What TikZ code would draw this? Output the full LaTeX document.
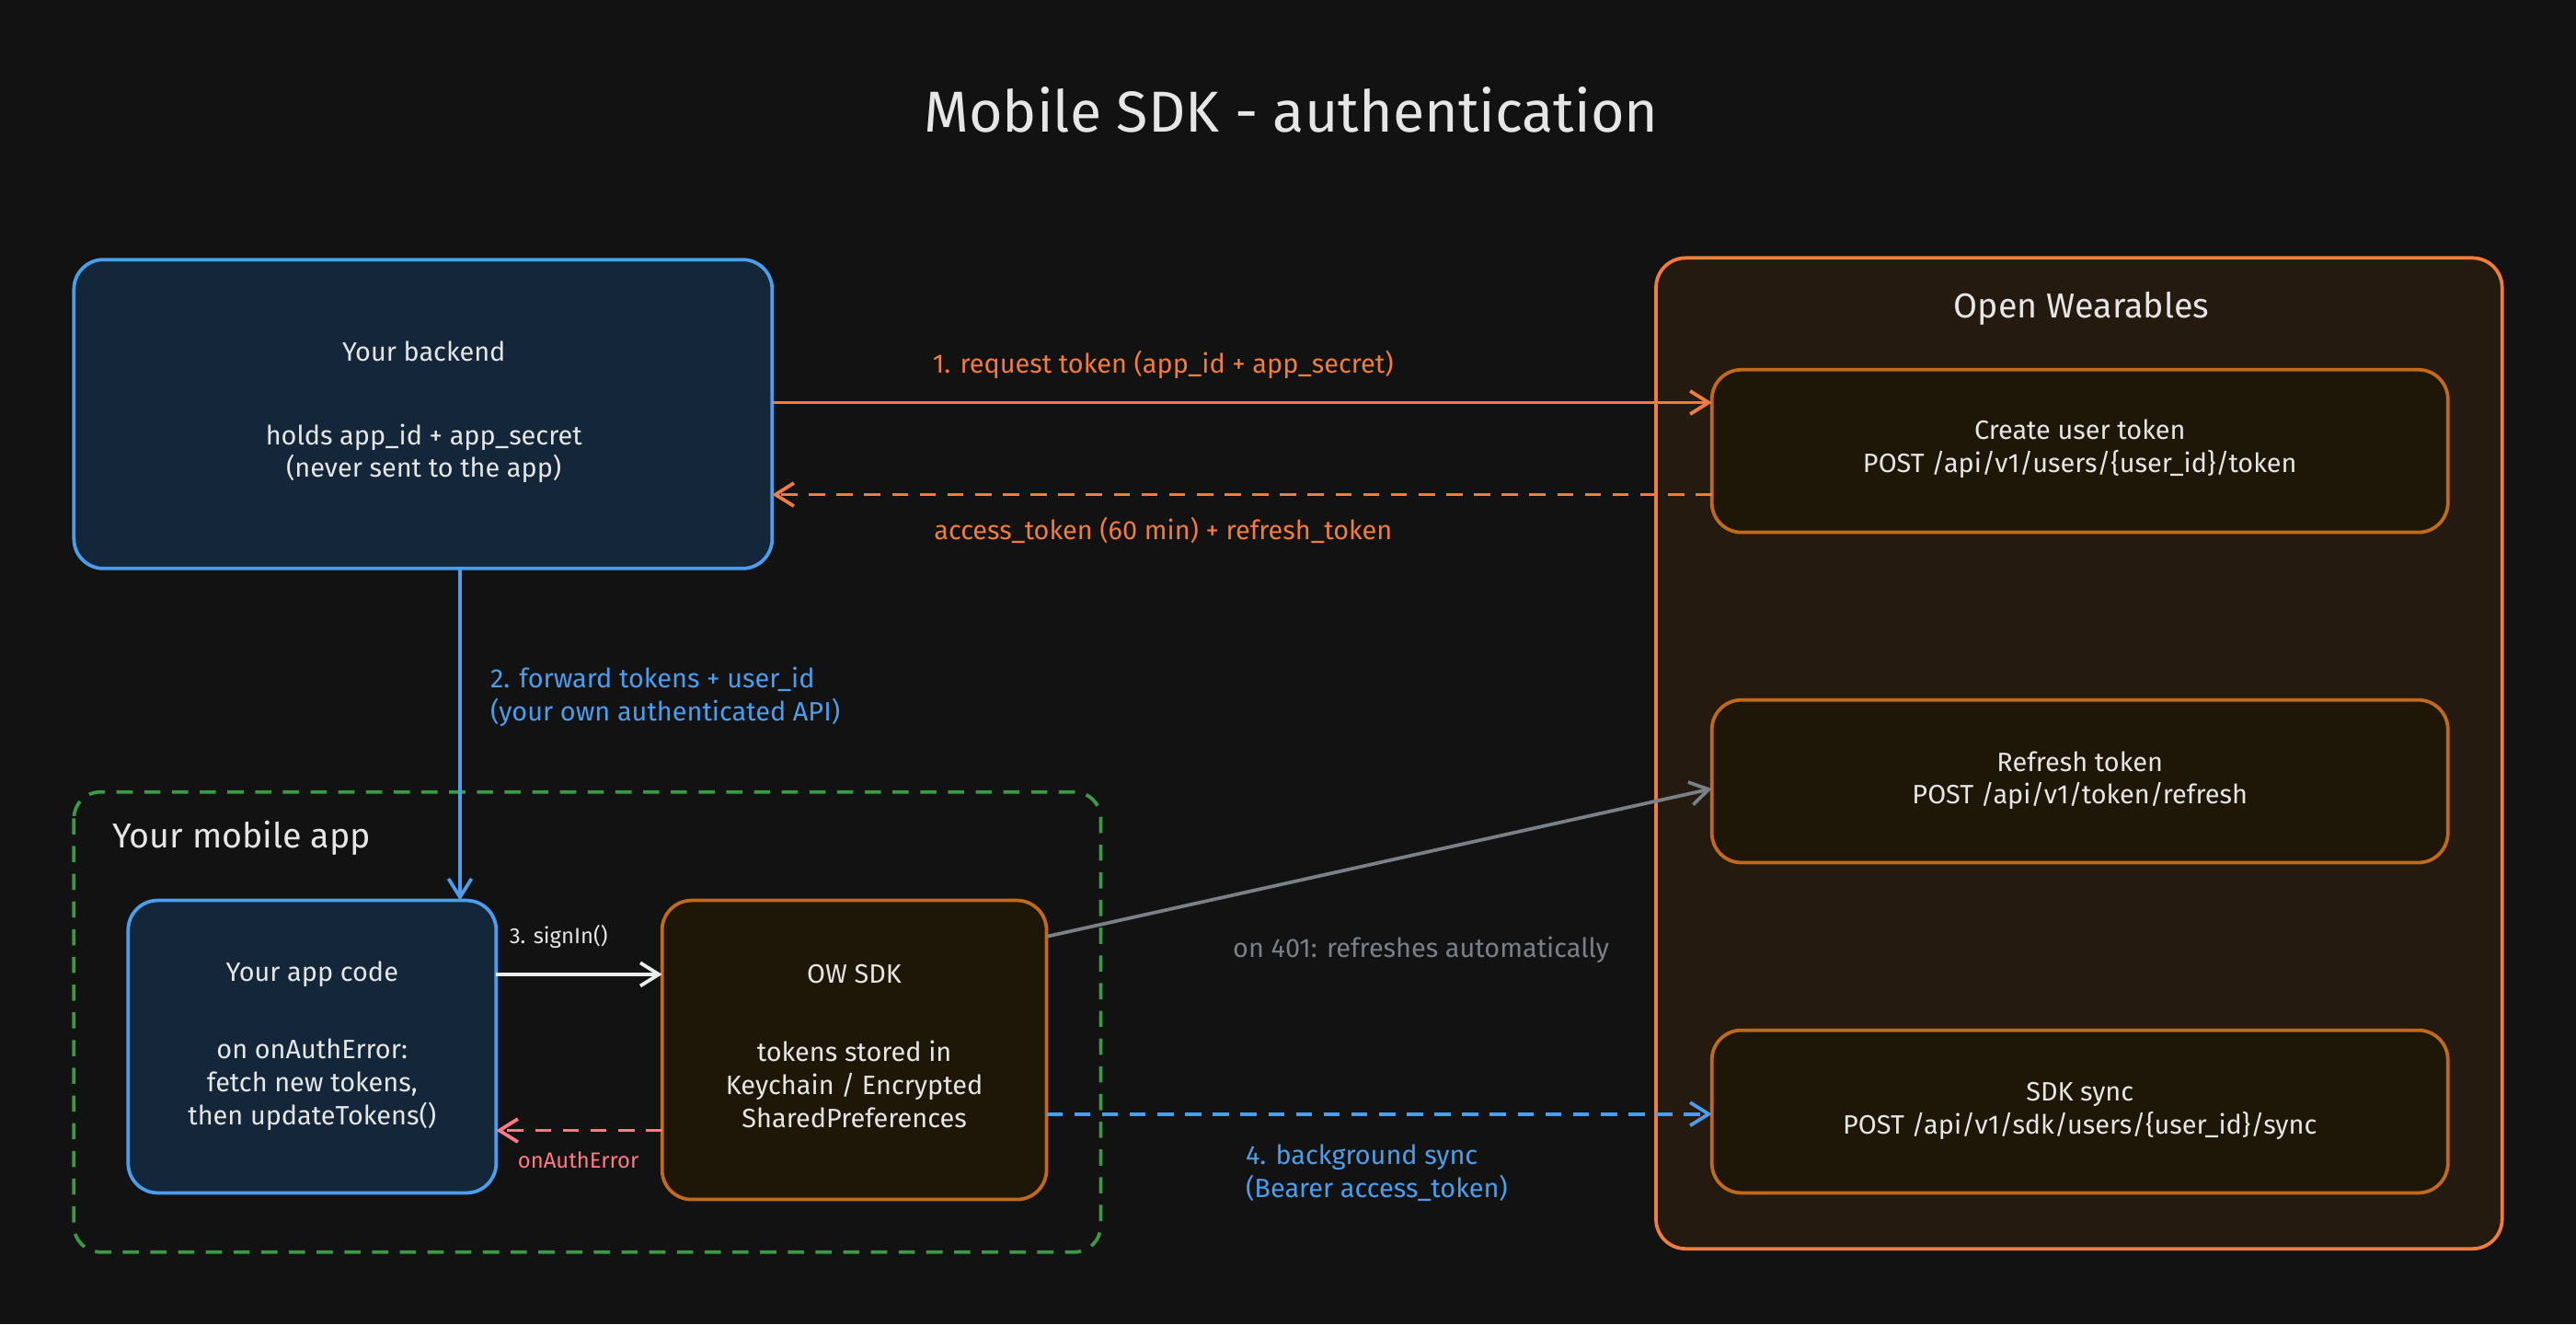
\documentclass[tikz,border=0pt]{standalone}
\usepackage{fontspec}
\setmainfont{Fira Sans}
\usetikzlibrary{arrows.meta}
\definecolor{bg}{HTML}{121212}
\definecolor{bl}{HTML}{4A9EED}
\definecolor{blf}{HTML}{13263A}
\definecolor{orn}{HTML}{F07D3A}
\definecolor{ornf}{HTML}{251A10}
\definecolor{inb}{HTML}{C06A1A}
\definecolor{inf}{HTML}{1E1606}
\definecolor{grn}{HTML}{3A9A45}
\definecolor{gry}{HTML}{7A8088}
\definecolor{pnk}{HTML}{FF7A85}
\definecolor{txt}{HTML}{E6E6E6}
\begin{document}
\begin{tikzpicture}[x=0.05cm,y=-0.05cm,
  t/.style={font=\fontsize{23}{28.5}\selectfont,text=txt,align=center},
  lab/.style={font=\fontsize{23}{28.5}\selectfont,align=left},
  box/.style={rounded corners=0.9cm,line width=3pt},
  arr/.style={line width=3pt,-{Straight Barb[length=16pt,width=20pt]}}]
\fill[bg] (0,0) rectangle (1568,806);
\node[t,font=\fontsize{50}{56}\selectfont] (title) at (786,67) {Mobile SDK - authentication};
% containers
\draw[box,orn,fill=ornf] (1008,157) rectangle (1523,760);
\node[t,font=\fontsize{30}{34}\selectfont] (owt) at (1267,188) {Open Wearables};
\draw[box,grn,dashed,dash pattern=on 14pt off 10pt,rounded corners=0.8cm] (45,482) rectangle (670,762);
\node[t,anchor=west,font=\fontsize{30}{34}\selectfont] (mat) at (66,510) {Your mobile app};
% boxes
\draw[box,bl,fill=blf] (45,158) rectangle (470,346);
\node[t] (be) at (258,214) {Your backend};
\node[t] at (258,276) {holds app\_id + app\_secret\\(never sent to the app)};
\draw[box,inb,fill=inf] (1042,225) rectangle (1490,324);
\node[t] (cut) at (1266,273) {Create user token\\POST /api/v1/users/\{user\_id\}/token};
\draw[box,inb,fill=inf] (1042,426) rectangle (1490,525);
\node[t] (rt) at (1266,475) {Refresh token\\POST /api/v1/token/refresh};
\draw[box,inb,fill=inf] (1042,627) rectangle (1490,726);
\node[t] (ss) at (1266,676) {SDK sync\\POST /api/v1/sdk/users/\{user\_id\}/sync};
\draw[box,bl,fill=blf] (78,548) rectangle (302,726);
\node[t] (ac) at (190,593) {Your app code};
\node[t] at (190,660) {on onAuthError:\\fetch new tokens,\\then updateTokens()};
\draw[box,inb,fill=inf] (403,548) rectangle (637,730);
\node[t] (sdk) at (520,593) {OW SDK};
\node[t] at (520,660) {tokens stored in\\Keychain / Encrypted\\SharedPreferences};
% coordinates
\coordinate (a1) at (470,245); \coordinate (b1) at (1042,245);
\coordinate (a2) at (1042,301); \coordinate (b2) at (470,301);
\coordinate (a3) at (280,346); \coordinate (b3) at (280,548);
\coordinate (a4) at (302,593); \coordinate (b4) at (403,593);
\coordinate (a5) at (403,688); \coordinate (b5) at (302,688);
\coordinate (a6) at (637,570); \coordinate (b6) at (1042,480);
\coordinate (a7) at (637,678); \coordinate (b7) at (1042,678);
\draw[arr,orn] (a1) -- (b1);
\node[lab,text=orn] at (708,222) {1. request token (app\_id + app\_secret)};
\draw[arr,orn,dashed,dash pattern=on 14pt off 10pt] (a2) -- (b2);
\node[lab,text=orn] at (708,323) {access\_token (60 min) + refresh\_token};
\draw[arr,bl] (a3) -- (b3);
\node[lab,text=bl,anchor=west] at (296,424) {2. forward tokens + user\_id\\(your own authenticated API)};
\draw[arr,txt!80] (a4) -- (b4);
\node[lab,text=txt,font=\fontsize{19}{23}\selectfont] at (340,570) {3. signIn()};
\draw[arr,pnk,dashed,dash pattern=on 14pt off 10pt] (a5) -- (b5);
\node[lab,text=pnk,font=\fontsize{19}{23}\selectfont] at (352,706) {onAuthError};
\draw[arr,gry] (a6) -- (b6);
\node[lab,text=gry] at (865,578) {on 401: refreshes automatically};
\draw[arr,bl,dashed,dash pattern=on 14pt off 10pt] (a7) -- (b7);
\node[lab,text=bl] at (838,714) {4. background sync\\(Bearer access\_token)};
\end{tikzpicture}
\end{document}
